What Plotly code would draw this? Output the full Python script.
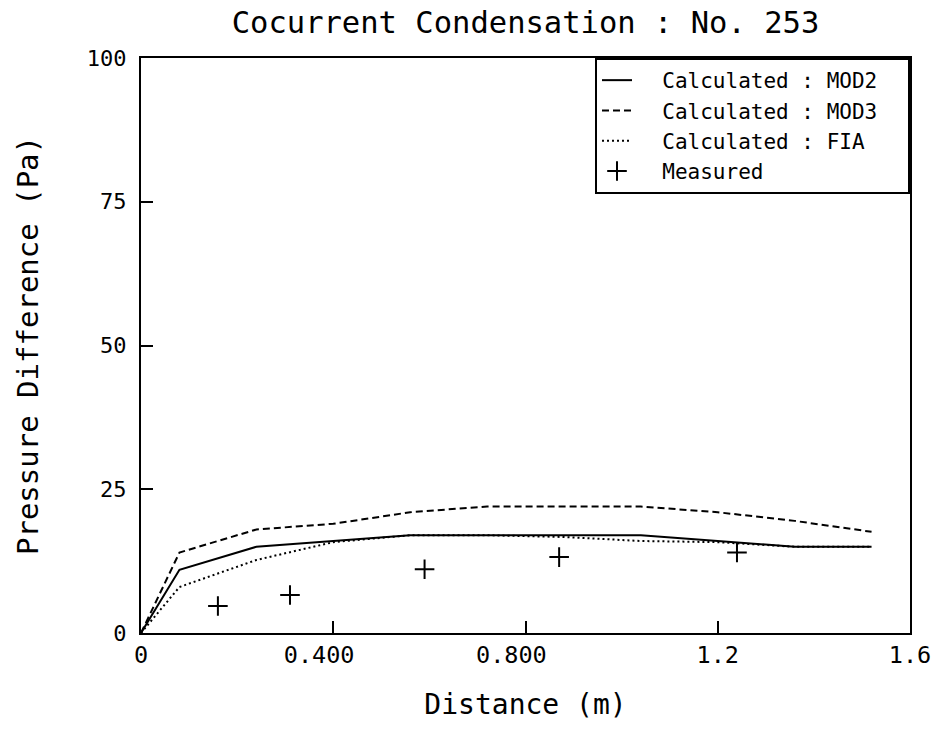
import plotly.graph_objects as go

# Data
x_calc = [0, 0.08, 0.24, 0.40, 0.56, 0.72, 0.88, 1.04, 1.20, 1.36, 1.52]
mod2 = [0, 11, 15, 16, 17, 17, 17, 17, 16, 15, 15]
mod3 = [0, 14, 18, 19, 21, 22, 22, 22, 21, 19.5, 17.6]
fia = [0, 8, 12.7, 15.8, 17, 17, 16.7, 16, 15.8, 15, 15]

x_meas = [0.16, 0.31, 0.59, 0.87, 1.24]
y_meas = [4.7, 6.6, 11.1, 13.2, 14.0]

x_tickvals = [0, 0.4, 0.8, 1.2, 1.6]
x_ticktext = ["0", "0.400\u00a0\u00a0", "0.800\u00a0\u00a0", "1.2", "1.6"]
y_tickvals = [0, 25, 50, 75, 100]
y_ticktext = ["0", "25", "50", "75", "100"]

series_names = ["Calculated : MOD2", "Calculated : MOD3", "Calculated : FIA", "Measured"]

FONT = "DejaVu Sans Mono"
PAD = "\u00a0\u00a0"


def legend_name(s):
    return PAD + s + PAD


fig = go.Figure()
fig.add_trace(go.Scatter(x=x_calc, y=mod2, mode="lines", name=legend_name(series_names[0]),
                         line=dict(color="black", width=2)))
fig.add_trace(go.Scatter(x=x_calc, y=mod3, mode="lines", name=legend_name(series_names[1]),
                         line=dict(color="black", width=2, dash="7px,4px")))
fig.add_trace(go.Scatter(x=x_calc, y=fia, mode="lines", name=legend_name(series_names[2]),
                         line=dict(color="black", width=2, dash="2px,3px")))
fig.add_trace(go.Scatter(x=x_meas, y=y_meas, mode="markers", name=legend_name(series_names[3]),
                         marker=dict(symbol="cross-thin", size=14, color="black",
                                     line=dict(color="black", width=2))))

fig.update_layout(
    width=938, height=729,
    paper_bgcolor="white", plot_bgcolor="white",
    margin=dict(l=141, r=28, t=58, b=96, autoexpand=False),
    font=dict(family=FONT, color="black", size=22),
    title=dict(text="Cocurrent Condensation : No. 253", x=0.5, xref="paper",
               xanchor="center", y=1 - 22 / 729, yref="container", yanchor="middle",
               font=dict(family=FONT, size=30.5, color="black")),
    showlegend=True,
    legend=dict(x=1, y=1, xanchor="right", yanchor="top",
                bordercolor="black", borderwidth=2, bgcolor="white",
                font=dict(family=FONT, size=21, color="black"),
                tracegroupgap=0, itemwidth=30),
)

fig.update_xaxes(
    range=[0, 1.6], tickvals=x_tickvals, ticktext=x_ticktext,
    ticks="inside", ticklen=12, tickwidth=2, tickcolor="black",
    showline=True, linecolor="black", linewidth=2, mirror=True,
    showgrid=False, zeroline=False, ticklabeloverflow="allow",
    tickfont=dict(family=FONT, size=23.5),
    title=dict(text="Distance (m)", font=dict(family=FONT, size=28), standoff=26),
)
fig.update_yaxes(
    range=[0, 100], tickvals=y_tickvals, ticktext=y_ticktext,
    ticks="inside", ticklen=12, tickwidth=2, tickcolor="black",
    showline=True, linecolor="black", linewidth=2, mirror=True,
    showgrid=False, zeroline=False,
    tickfont=dict(family=FONT, size=22),
    ticklabelstandoff=8,
    title=dict(text="Pressure Difference (Pa)", font=dict(family=FONT, size=29), standoff=40),
)

# remove the default 8px page margin so the 938x729 figure fills the window
fig.write_html("out.html", config={"displayModeBar": False},
               post_script="document.body.style.margin='0';")
